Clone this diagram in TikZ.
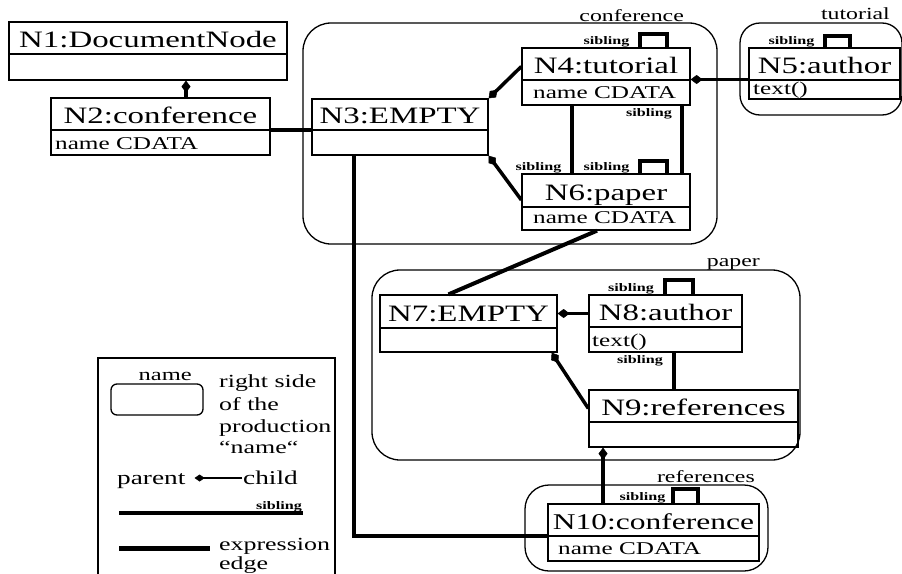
\documentclass[tikz,border=0pt]{standalone}
\usepackage{fontspec}
\setmainfont[FakeStretch=1.4]{Liberation Serif}
\usetikzlibrary{arrows.meta,fit,calc}

\tikzset{
 umlbox/.style={draw, line width=1.3pt, inner sep=0pt},
 divline/.style={line width=1.3pt},
 ttl/.style={font=\fontsize{23.5}{25}\selectfont, inner sep=0pt, anchor=base},
 subtxt/.style={font=\fontsize{18}{20}\selectfont, inner sep=0pt, anchor=base west},
 sibtxt/.style={font=\fontsize{11.5}{12}\selectfont\bfseries, inner sep=0pt, anchor=base},
 region/.style={draw, line width=1.3pt, inner sep=0pt, rounded corners=28pt},
 regtxt/.style={font=\fontsize{17}{19}\selectfont, inner sep=0pt, anchor=base east},
 legtxt/.style={font=\fontsize{18.5}{22}\selectfont, inner sep=0pt, anchor=base west},
 expr/.style={line width=4pt},
 sibedge/.style={line width=4pt},
 childedge/.style={line width=3.5pt, -{Diamond[length=12pt,width=9pt,line width=0.5pt]}},
}

% #1 name, #2 x1, #3 y1, #4 x2, #5 y2, #6 ydiv, #7 title
\newcommand{\umlnode}[7]{%
  \node[umlbox, fit={(#2,#3)(#4,#5)}] (#1) {};
  \draw[divline] (#1.west |- 0,#6) -- (#1.east |- 0,#6);
  \node[ttl] (#1-t) at ({(#2+#4)/2},{#6-7}) {#7};
}

\begin{document}
\begin{tikzpicture}[x=1pt,y=-1pt]
\useasboundingbox (0,0) rectangle (902,573);
\clip (0,0) rectangle (902,573);

% regions
\node[region, fit={(303,23)(717,244)}] (rconf) {};
\node[regtxt] (rconf-l) at (684,21) {conference};
\node[region, rounded corners=20pt, fit={(740,23)(902,115)}] (rtut) {};
\node[regtxt] (rtut-l) at (890,19) {tutorial};
\node[region, fit={(372,270)(800,460)}] (rpap) {};
\node[regtxt] (rpap-l) at (760,266) {paper};
\node[region, rounded corners=24pt, fit={(525,485)(768,571)}] (rref) {};
\node[regtxt] (rref-l) at (755,482) {references};

% boxes
\umlnode{n1}{9}{22}{287}{80}{54}{N1:DocumentNode}
\umlnode{n2}{51}{98}{270}{155}{130}{N2:conference}
\node[subtxt] (n2-s) at (55,149) {name CDATA};
\umlnode{n3}{312}{99}{488}{155}{130}{N3:EMPTY}
\umlnode{n4}{522}{48}{690}{105}{80}{N4:tutorial}
\node[subtxt] (n4-s) at (533,98) {name CDATA};
\umlnode{n5}{749}{48}{900}{99}{80}{N5:author}
\node[subtxt] (n5-s) at (753,94) {text()};
\umlnode{n6}{522}{174}{690}{230}{207}{N6:paper}
\node[subtxt] (n6-s) at (533,223) {name CDATA};
\umlnode{n7}{380}{295}{557}{352}{328}{N7:EMPTY}
\umlnode{n8}{589}{295}{742}{352}{327}{N8:author}
\node[subtxt] (n8-s) at (592,346) {text()};
\umlnode{n9}{589}{390}{798}{447}{422}{N9:references}
\node[umlbox, fit={(548,504)(759,561)}] (n10) {};
\draw[divline] (n10.west |- 0,536) -- (n10.east |- 0,536);
\node[ttl, font=\fontsize{22.5}{24}\selectfont] (n10-t) at (653.5,529) {N10:conference};
\node[subtxt] (n10-s) at (558,554) {name CDATA};

% parent-child edges
\draw[childedge] ([xshift=25.5pt]n2.north) -- ([xshift=25.5pt]n2.north |- n1.south);
\draw[childedge] ([yshift=10pt]n4.west) -- (n3.north east);
\draw[childedge] ([yshift=2pt]n6.west) -- (n3.south east);
\draw[childedge, line width=3pt] ([yshift=-6pt]n5.west) -- ([yshift=-6pt]n5.west -| n4.east);
\draw[childedge] ([yshift=10pt]n8.west) -- ([yshift=10pt]n8.west -| n7.east);
\draw[childedge] ([yshift=10pt]n9.west) -- ([xshift=-6pt]n7.south east);
\draw[childedge] ([xshift=-50.5pt]n10.north) -- ([xshift=-50.5pt]n10.north |- n9.south);

% expression edges
\draw[expr] ([yshift=-3pt]n2.east) -- ([yshift=-3pt]n2.east -| n3.west);
\draw[expr] ([xshift=-9pt]n6.south) -- ([xshift=-20pt]n7.north);
\draw[expr] ([xshift=-46pt]n3.south) |- ([yshift=-3pt]n10.west);

% sibling edges
\draw[sibedge] ([xshift=-34pt]n4.south) -- ([xshift=-34pt]n4.south |- n6.north);
\draw[sibedge] ([xshift=76pt]n4.south) -- ([xshift=76pt]n4.south |- n6.north);
\draw[sibedge] ([xshift=8pt]n8.south) -- ([xshift=8pt]n8.south |- n9.north);
\draw[sibedge] ([xshift=34pt]n4.north) -- ++(0,-13) -- ++(27,0) -- ++(0,13);
\draw[sibedge] ([xshift=34pt]n6.north) -- ++(0,-12) -- ++(27,0) -- ++(0,12);
\draw[sibedge] ([xshift=0.5pt]n5.north) -- ++(0,-11) -- ++(25,0) -- ++(0,11);
\draw[sibedge] ([xshift=-0.5pt]n8.north) -- ++(0,-14) -- ++(27.5,0) -- ++(0,14);
\draw[sibedge] ([xshift=19.5pt]n10.north) -- ++(0,-14) -- ++(25,0) -- ++(0,14);

% sibling labels
\node[sibtxt] (s1) at (606.5,44) {sibling};
\node[sibtxt] (s2) at (649,116) {sibling};
\node[sibtxt] (s3) at (538.5,170) {sibling};
\node[sibtxt] (s4) at (606.5,170) {sibling};
\node[sibtxt] (s5) at (791.5,44) {sibling};
\node[sibtxt] (s6) at (631,291) {sibling};
\node[sibtxt] (s7) at (640,363) {sibling};
\node[sibtxt] (s8) at (642.5,500) {sibling};

% legend
\node[umlbox, fit={(98,358)(335,590)}] (leg) {};
\node[regtxt, font=\fontsize{17.5}{19}\selectfont] (leg-name) at (192,380) {name};
\node[umlbox, rounded corners=6pt, fit={(111,384)(203,415)}] (leg-rr) {};
\node[legtxt] (leg-t1) at (219,387) {right side};
\node[legtxt] (leg-t2) at (219,410) {of the};
\node[legtxt] (leg-t3) at (219,432) {production};
\node[legtxt] (leg-t4) at (219,453) {“name“};
\node[legtxt, font=\fontsize{19.5}{22}\selectfont] (lparent) at (117,484) {parent};
\node[legtxt, font=\fontsize{19.5}{22}\selectfont] (lchild) at (243,484) {child};
\draw[childedge, line width=2pt, -{Diamond[length=10pt,width=7pt,line width=0.5pt]}]
  ([xshift=-1pt,yshift=6pt]lchild.base west) -- ([xshift=9pt,yshift=6pt]lparent.base east);
\coordinate (lsA) at (119,513);
\coordinate (lsB) at (303,513);
\draw[sibedge] (lsA) -- (lsB);
\node[sibtxt] (s9) at (279,509) {sibling};
\coordinate (leA) at (119,548);
\coordinate (leB) at (210,548);
\draw[expr, line width=5pt] (leA) -- (leB);
\node[legtxt] (leg-t5) at (219,550) {expression};
\node[legtxt] (leg-t6) at (219,569) {edge};
\end{tikzpicture}
\end{document}
